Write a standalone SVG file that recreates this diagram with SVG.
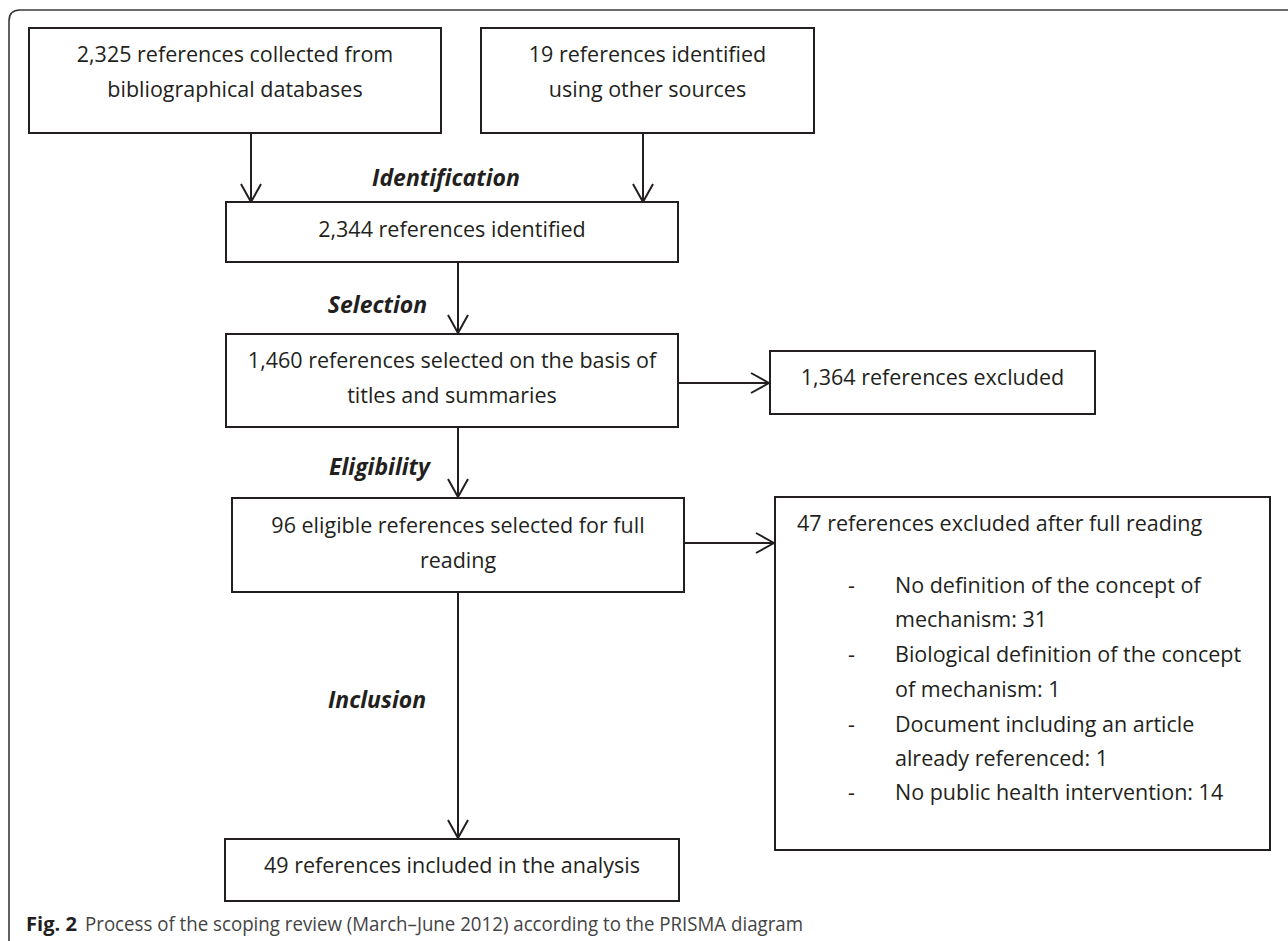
<svg xmlns="http://www.w3.org/2000/svg" width="1288" height="941" viewBox="0 0 1288 941">
<defs>
<style>
.box{fill:#fff;stroke:#231f20;stroke-width:2}
.t{font-family:"Open Sans","Noto Sans","Liberation Sans",sans-serif;font-size:21.5px;fill:#231f20}
.c{text-anchor:middle}
.lab{font-family:"Open Sans","Noto Sans","Liberation Sans",sans-serif;font-size:23px;font-weight:bold;font-style:italic;fill:#231f20;text-anchor:middle}
.conn{stroke:#231f20;stroke-width:2;fill:none;marker-end:url(#arr)}
.cap{font-family:"Liberation Sans Narrow","Open Sans","Liberation Sans",sans-serif;font-size:20px}
</style>
<marker id="arr" viewBox="0 0 20 22" refX="19" refY="11" markerWidth="20" markerHeight="22" markerUnits="userSpaceOnUse" orient="auto">
<path d="M1,1 L19,11 L1,21" fill="none" stroke="#231f20" stroke-width="2"/>
</marker>
</defs>
<rect width="1288" height="941" fill="#fff"/>
<path d="M9,941 V21 Q9,10 20,10 H1288" fill="none" stroke="#3a3a3a" stroke-width="1.6"/>

<g id="connectors">
<line class="conn" x1="251" y1="134" x2="251" y2="202"/>
<line class="conn" x1="643" y1="134" x2="643" y2="202"/>
<line class="conn" x1="458" y1="263" x2="458" y2="333"/>
<line class="conn" x1="458" y1="428" x2="458" y2="497"/>
<line class="conn" x1="458" y1="593" x2="458" y2="838"/>
<line class="conn" x1="679" y1="383" x2="769" y2="383"/>
<line class="conn" x1="685" y1="543" x2="774" y2="543"/>
</g>

<g id="n-databases">
<rect class="box" x="29" y="28" width="412" height="105"/>
<text class="t c" x="235" y="62">2,325 references collected from</text>
<text class="t c" x="235" y="97">bibliographical databases</text>
</g>
<g id="n-other">
<rect class="box" x="481" y="28" width="333" height="105"/>
<text class="t c" x="647.5" y="62">19 references identified</text>
<text class="t c" x="647.5" y="97">using other sources</text>
</g>
<g id="n-identified">
<rect class="box" x="226" y="202" width="452" height="60"/>
<text class="t c" x="452" y="237">2,344 references identified</text>
</g>
<g id="n-selected">
<rect class="box" x="226" y="334" width="452" height="93"/>
<text class="t c" x="452" y="368">1,460 references selected on the basis of</text>
<text class="t c" x="452" y="403">titles and summaries</text>
</g>
<g id="n-excluded1">
<rect class="box" x="770" y="351" width="325" height="63"/>
<text class="t c" x="932.5" y="385">1,364 references excluded</text>
</g>
<g id="n-eligible">
<rect class="box" x="232" y="498" width="452" height="94"/>
<text class="t c" x="458" y="533">96 eligible references selected for full</text>
<text class="t c" x="458" y="568">reading</text>
</g>
<g id="n-excluded2">
<rect class="box" x="775" y="497" width="495" height="353"/>
<text class="t" x="797" y="531">47 references excluded after full reading</text>
<text class="t" x="848" y="593">-</text>
<text class="t" x="895" y="593">No definition of the concept of</text>
<text class="t" x="895" y="627">mechanism: 31</text>
<text class="t" x="848" y="662">-</text>
<text class="t" x="895" y="662">Biological definition of the concept</text>
<text class="t" x="895" y="697">of mechanism: 1</text>
<text class="t" x="848" y="732">-</text>
<text class="t" x="895" y="732">Document including an article</text>
<text class="t" x="895" y="766">already referenced: 1</text>
<text class="t" x="848" y="800">-</text>
<text class="t" x="895" y="800">No public health intervention: 14</text>
</g>
<g id="n-included">
<rect class="box" x="225" y="839" width="454" height="62"/>
<text class="t c" x="452" y="873">49 references included in the analysis</text>
</g>

<g id="labels">
<text class="lab" x="446" y="186">Identification</text>
<text class="lab" x="377.5" y="313">Selection</text>
<text class="lab" x="379.5" y="475">Eligibility</text>
<text class="lab" x="377" y="708">Inclusion</text>
</g>

<g id="caption">
<text class="cap" x="26" y="931" font-weight="bold" fill="#231f20" textLength="51" lengthAdjust="spacingAndGlyphs">Fig. 2</text>
<text class="cap" x="85" y="931" fill="#444" textLength="718" lengthAdjust="spacingAndGlyphs">Process of the scoping review (March–June 2012) according to the PRISMA diagram</text>
</g>
</svg>
